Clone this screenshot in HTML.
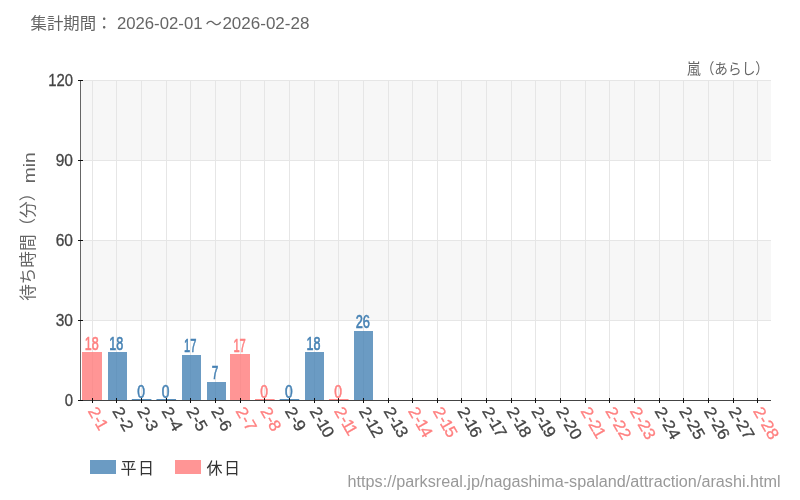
<!DOCTYPE html>
<html lang="ja">
<head>
<meta charset="utf-8">
<title>嵐（あらし） 待ち時間</title>
<style>
html,body{margin:0;padding:0;background:#fff;}
body{width:800px;height:500px;overflow:hidden;font-family:"Liberation Sans",sans-serif;}
svg{display:block;will-change:transform;}
</style>
</head>
<body>
<svg width="800" height="500" viewBox="0 0 800 500">
<rect x="0" y="0" width="800" height="500" fill="#fff"/>
<rect x="81" y="80" width="690" height="80" fill="#f7f7f7"/>
<rect x="81" y="240" width="690" height="80" fill="#f7f7f7"/>
<path d="M92.5 80V400M116.5 80V400M141.5 80V400M166.5 80V400M190.5 80V400M215.5 80V400M240.5 80V400M264.5 80V400M289.5 80V400M314.5 80V400M338.5 80V400M363.5 80V400M388.5 80V400M412.5 80V400M437.5 80V400M461.5 80V400M486.5 80V400M511.5 80V400M535.5 80V400M560.5 80V400M585.5 80V400M609.5 80V400M634.5 80V400M659.5 80V400M683.5 80V400M708.5 80V400M733.5 80V400M757.5 80V400M81 80.5H771M81 160.5H771M81 240.5H771M81 320.5H771" stroke="#e6e6e6" stroke-width="1" fill="none"/>
<rect x="82" y="352" width="20" height="48" fill="#ff7b7b" fill-opacity="0.8"/>
<rect x="108" y="352" width="19" height="48" fill="#4682b4" fill-opacity="0.8"/>
<rect x="131.81" y="399" width="19.6" height="1" fill="#4682b4" fill-opacity="0.9"/>
<rect x="156.45" y="399" width="19.6" height="1" fill="#4682b4" fill-opacity="0.9"/>
<rect x="182" y="355" width="19" height="45" fill="#4682b4" fill-opacity="0.8"/>
<rect x="207" y="382" width="19" height="18" fill="#4682b4" fill-opacity="0.8"/>
<rect x="230" y="354" width="20" height="46" fill="#ff7b7b" fill-opacity="0.8"/>
<rect x="255.02" y="399" width="19.6" height="1" fill="#ff8080" fill-opacity="0.9"/>
<rect x="279.66" y="399" width="19.6" height="1" fill="#4682b4" fill-opacity="0.9"/>
<rect x="305" y="352" width="19" height="48" fill="#4682b4" fill-opacity="0.8"/>
<rect x="328.95" y="399" width="19.6" height="1" fill="#ff8080" fill-opacity="0.9"/>
<rect x="354" y="331" width="19" height="69" fill="#4682b4" fill-opacity="0.8"/>
<path d="M80.5 80V401" stroke="#666" stroke-width="1" fill="none"/>
<path d="M80 400.5H771" stroke="#444" stroke-width="1" fill="none"/>
<path d="M78 80.5H83M78 160.5H83M78 240.5H83M78 320.5H83M78 400.5H83M92.5 398V403M116.5 398V403M141.5 398V403M166.5 398V403M190.5 398V403M215.5 398V403M240.5 398V403M264.5 398V403M289.5 398V403M314.5 398V403M338.5 398V403M363.5 398V403M388.5 398V403M412.5 398V403M437.5 398V403M461.5 398V403M486.5 398V403M511.5 398V403M535.5 398V403M560.5 398V403M585.5 398V403M609.5 398V403M634.5 398V403M659.5 398V403M683.5 398V403M708.5 398V403M733.5 398V403M757.5 398V403" stroke="#111" stroke-width="1" fill="none"/>
<text x="73" y="86.2" text-anchor="end" font-family="Liberation Sans, sans-serif" font-size="16.6" fill="#444" stroke="#444" stroke-width="0.3" textLength="24.8" lengthAdjust="spacingAndGlyphs">120</text>
<text x="73" y="166.2" text-anchor="end" font-family="Liberation Sans, sans-serif" font-size="16.6" fill="#444" stroke="#444" stroke-width="0.3" textLength="17.3" lengthAdjust="spacingAndGlyphs">90</text>
<text x="73" y="246.2" text-anchor="end" font-family="Liberation Sans, sans-serif" font-size="16.6" fill="#444" stroke="#444" stroke-width="0.3" textLength="17.3" lengthAdjust="spacingAndGlyphs">60</text>
<text x="73" y="326.2" text-anchor="end" font-family="Liberation Sans, sans-serif" font-size="16.6" fill="#444" stroke="#444" stroke-width="0.3" textLength="17.3" lengthAdjust="spacingAndGlyphs">30</text>
<text x="73" y="406.2" text-anchor="end" font-family="Liberation Sans, sans-serif" font-size="16.6" fill="#444" stroke="#444" stroke-width="0.3" textLength="8.3" lengthAdjust="spacingAndGlyphs">0</text>
<text x="91.72" y="349.60" text-anchor="middle" font-family="Liberation Sans, sans-serif" font-size="17.6" fill="#ff8080" stroke="#ff8080" stroke-width="0.6" textLength="14.0" lengthAdjust="spacingAndGlyphs">18</text>
<text x="116.36" y="349.60" text-anchor="middle" font-family="Liberation Sans, sans-serif" font-size="17.6" fill="#4682b4" stroke="#4682b4" stroke-width="0.6" textLength="14.0" lengthAdjust="spacingAndGlyphs">18</text>
<text x="141.01" y="397.60" text-anchor="middle" font-family="Liberation Sans, sans-serif" font-size="17.6" fill="#4682b4" stroke="#4682b4" stroke-width="0.6" textLength="7.7" lengthAdjust="spacingAndGlyphs">0</text>
<text x="165.65" y="397.60" text-anchor="middle" font-family="Liberation Sans, sans-serif" font-size="17.6" fill="#4682b4" stroke="#4682b4" stroke-width="0.6" textLength="7.7" lengthAdjust="spacingAndGlyphs">0</text>
<text x="190.29" y="352.27" text-anchor="middle" font-family="Liberation Sans, sans-serif" font-size="17.6" fill="#4682b4" stroke="#4682b4" stroke-width="0.6" textLength="12.4" lengthAdjust="spacingAndGlyphs">17</text>
<text x="214.94" y="378.93" text-anchor="middle" font-family="Liberation Sans, sans-serif" font-size="17.6" fill="#4682b4" stroke="#4682b4" stroke-width="0.6" textLength="6.6" lengthAdjust="spacingAndGlyphs">7</text>
<text x="239.58" y="352.27" text-anchor="middle" font-family="Liberation Sans, sans-serif" font-size="17.6" fill="#ff8080" stroke="#ff8080" stroke-width="0.6" textLength="12.4" lengthAdjust="spacingAndGlyphs">17</text>
<text x="264.22" y="397.60" text-anchor="middle" font-family="Liberation Sans, sans-serif" font-size="17.6" fill="#ff8080" stroke="#ff8080" stroke-width="0.6" textLength="7.7" lengthAdjust="spacingAndGlyphs">0</text>
<text x="288.86" y="397.60" text-anchor="middle" font-family="Liberation Sans, sans-serif" font-size="17.6" fill="#4682b4" stroke="#4682b4" stroke-width="0.6" textLength="7.7" lengthAdjust="spacingAndGlyphs">0</text>
<text x="313.51" y="349.60" text-anchor="middle" font-family="Liberation Sans, sans-serif" font-size="17.6" fill="#4682b4" stroke="#4682b4" stroke-width="0.6" textLength="14.0" lengthAdjust="spacingAndGlyphs">18</text>
<text x="338.15" y="397.60" text-anchor="middle" font-family="Liberation Sans, sans-serif" font-size="17.6" fill="#ff8080" stroke="#ff8080" stroke-width="0.6" textLength="7.7" lengthAdjust="spacingAndGlyphs">0</text>
<text x="362.79" y="328.27" text-anchor="middle" font-family="Liberation Sans, sans-serif" font-size="17.6" fill="#4682b4" stroke="#4682b4" stroke-width="0.6" textLength="14.3" lengthAdjust="spacingAndGlyphs">26</text>
<text transform="translate(87.42 410.9) rotate(60) scale(1.055 1)" dx="0 0.3 -1.35" font-family="Liberation Sans, sans-serif" font-size="16.4" fill="#ff8080" stroke="#ff8080" stroke-width="0.3">2-1</text>
<text transform="translate(112.06 410.9) rotate(60) scale(1.055 1)" dx="0 0.3 -0.3" font-family="Liberation Sans, sans-serif" font-size="16.4" fill="#444" stroke="#444" stroke-width="0.3">2-2</text>
<text transform="translate(136.71 410.9) rotate(60) scale(1.055 1)" dx="0 0.3 -0.3" font-family="Liberation Sans, sans-serif" font-size="16.4" fill="#444" stroke="#444" stroke-width="0.3">2-3</text>
<text transform="translate(161.35 410.9) rotate(60) scale(1.055 1)" dx="0 0.3 -0.3" font-family="Liberation Sans, sans-serif" font-size="16.4" fill="#444" stroke="#444" stroke-width="0.3">2-4</text>
<text transform="translate(185.99 410.9) rotate(60) scale(1.055 1)" dx="0 0.3 -0.3" font-family="Liberation Sans, sans-serif" font-size="16.4" fill="#444" stroke="#444" stroke-width="0.3">2-5</text>
<text transform="translate(210.64 410.9) rotate(60) scale(1.055 1)" dx="0 0.3 -0.3" font-family="Liberation Sans, sans-serif" font-size="16.4" fill="#444" stroke="#444" stroke-width="0.3">2-6</text>
<text transform="translate(235.28 410.9) rotate(60) scale(1.055 1)" dx="0 0.3 -0.3" font-family="Liberation Sans, sans-serif" font-size="16.4" fill="#ff8080" stroke="#ff8080" stroke-width="0.3">2-7</text>
<text transform="translate(259.92 410.9) rotate(60) scale(1.055 1)" dx="0 0.3 -0.3" font-family="Liberation Sans, sans-serif" font-size="16.4" fill="#ff8080" stroke="#ff8080" stroke-width="0.3">2-8</text>
<text transform="translate(284.56 410.9) rotate(60) scale(1.055 1)" dx="0 0.3 -0.3" font-family="Liberation Sans, sans-serif" font-size="16.4" fill="#444" stroke="#444" stroke-width="0.3">2-9</text>
<text transform="translate(309.21 410.9) rotate(60) scale(1.055 1)" dx="0 0.3 -1.35 -1.2" font-family="Liberation Sans, sans-serif" font-size="16.4" fill="#444" stroke="#444" stroke-width="0.3">2-10</text>
<text transform="translate(333.85 410.9) rotate(60) scale(1.055 1)" dx="0 0.3 -1.35 -2.25" font-family="Liberation Sans, sans-serif" font-size="16.4" fill="#ff8080" stroke="#ff8080" stroke-width="0.3">2-11</text>
<text transform="translate(358.49 410.9) rotate(60) scale(1.055 1)" dx="0 0.3 -1.35 -1.2" font-family="Liberation Sans, sans-serif" font-size="16.4" fill="#444" stroke="#444" stroke-width="0.3">2-12</text>
<text transform="translate(383.14 410.9) rotate(60) scale(1.055 1)" dx="0 0.3 -1.35 -1.2" font-family="Liberation Sans, sans-serif" font-size="16.4" fill="#444" stroke="#444" stroke-width="0.3">2-13</text>
<text transform="translate(407.78 410.9) rotate(60) scale(1.055 1)" dx="0 0.3 -1.35 -1.2" font-family="Liberation Sans, sans-serif" font-size="16.4" fill="#ff8080" stroke="#ff8080" stroke-width="0.3">2-14</text>
<text transform="translate(432.42 410.9) rotate(60) scale(1.055 1)" dx="0 0.3 -1.35 -1.2" font-family="Liberation Sans, sans-serif" font-size="16.4" fill="#ff8080" stroke="#ff8080" stroke-width="0.3">2-15</text>
<text transform="translate(457.06 410.9) rotate(60) scale(1.055 1)" dx="0 0.3 -1.35 -1.2" font-family="Liberation Sans, sans-serif" font-size="16.4" fill="#444" stroke="#444" stroke-width="0.3">2-16</text>
<text transform="translate(481.71 410.9) rotate(60) scale(1.055 1)" dx="0 0.3 -1.35 -1.2" font-family="Liberation Sans, sans-serif" font-size="16.4" fill="#444" stroke="#444" stroke-width="0.3">2-17</text>
<text transform="translate(506.35 410.9) rotate(60) scale(1.055 1)" dx="0 0.3 -1.35 -1.2" font-family="Liberation Sans, sans-serif" font-size="16.4" fill="#444" stroke="#444" stroke-width="0.3">2-18</text>
<text transform="translate(530.99 410.9) rotate(60) scale(1.055 1)" dx="0 0.3 -1.35 -1.2" font-family="Liberation Sans, sans-serif" font-size="16.4" fill="#444" stroke="#444" stroke-width="0.3">2-19</text>
<text transform="translate(555.64 410.9) rotate(60) scale(1.055 1)" dx="0 0.3 -0.3 0" font-family="Liberation Sans, sans-serif" font-size="16.4" fill="#444" stroke="#444" stroke-width="0.3">2-20</text>
<text transform="translate(580.28 410.9) rotate(60) scale(1.055 1)" dx="0 0.3 -0.3 -1.05" font-family="Liberation Sans, sans-serif" font-size="16.4" fill="#ff8080" stroke="#ff8080" stroke-width="0.3">2-21</text>
<text transform="translate(604.92 410.9) rotate(60) scale(1.055 1)" dx="0 0.3 -0.3 0" font-family="Liberation Sans, sans-serif" font-size="16.4" fill="#ff8080" stroke="#ff8080" stroke-width="0.3">2-22</text>
<text transform="translate(629.56 410.9) rotate(60) scale(1.055 1)" dx="0 0.3 -0.3 0" font-family="Liberation Sans, sans-serif" font-size="16.4" fill="#ff8080" stroke="#ff8080" stroke-width="0.3">2-23</text>
<text transform="translate(654.21 410.9) rotate(60) scale(1.055 1)" dx="0 0.3 -0.3 0" font-family="Liberation Sans, sans-serif" font-size="16.4" fill="#444" stroke="#444" stroke-width="0.3">2-24</text>
<text transform="translate(678.85 410.9) rotate(60) scale(1.055 1)" dx="0 0.3 -0.3 0" font-family="Liberation Sans, sans-serif" font-size="16.4" fill="#444" stroke="#444" stroke-width="0.3">2-25</text>
<text transform="translate(703.49 410.9) rotate(60) scale(1.055 1)" dx="0 0.3 -0.3 0" font-family="Liberation Sans, sans-serif" font-size="16.4" fill="#444" stroke="#444" stroke-width="0.3">2-26</text>
<text transform="translate(728.14 410.9) rotate(60) scale(1.055 1)" dx="0 0.3 -0.3 0" font-family="Liberation Sans, sans-serif" font-size="16.4" fill="#444" stroke="#444" stroke-width="0.3">2-27</text>
<text transform="translate(752.78 410.9) rotate(60) scale(1.055 1)" dx="0 0.3 -0.3 0" font-family="Liberation Sans, sans-serif" font-size="16.4" fill="#ff8080" stroke="#ff8080" stroke-width="0.3">2-28</text>
<text x="30.5" y="29" font-family="Liberation Sans, Noto Sans CJK JP, sans-serif" font-size="16.4" fill="#666">集計期間：</text>
<text x="116.9" y="29" font-family="Liberation Sans, sans-serif" font-size="16.4" fill="#666" textLength="85.6" lengthAdjust="spacingAndGlyphs">2026-02-01</text>
<text x="205.6" y="29" font-family="Liberation Sans, Noto Sans CJK JP, sans-serif" font-size="16.4" fill="#666">～</text>
<text x="222.4" y="29" font-family="Liberation Sans, sans-serif" font-size="16.4" fill="#666" textLength="87" lengthAdjust="spacingAndGlyphs">2026-02-28</text>
<text x="687" y="74.4" font-family="Liberation Sans, Noto Sans CJK JP, sans-serif" font-size="15" fill="#666" textLength="82" lengthAdjust="spacingAndGlyphs">嵐（あらし）</text>
<text transform="translate(34.4 300.8) rotate(-90)" font-family="Liberation Sans, Noto Sans CJK JP, sans-serif" font-size="16.6" fill="#666" textLength="116" lengthAdjust="spacingAndGlyphs">待ち時間（分）</text>
<text transform="translate(35.4 183.3) rotate(-90)" font-family="Liberation Sans, sans-serif" font-size="17.2" fill="#666" textLength="31" lengthAdjust="spacingAndGlyphs">min</text>
<rect x="90" y="460" width="26" height="14" fill="#4682b4" fill-opacity="0.8"/>
<rect x="175" y="460" width="26" height="14" fill="#ff7b7b" fill-opacity="0.8"/>
<text x="120.5" y="473.5" font-family="Liberation Sans, Noto Sans CJK JP, sans-serif" font-size="16" letter-spacing="1.5" fill="#333">平日</text>
<text x="206.5" y="473.5" font-family="Liberation Sans, Noto Sans CJK JP, sans-serif" font-size="16" letter-spacing="1.5" fill="#333">休日</text>
<text x="347.6" y="486.8" font-family="Liberation Sans, sans-serif" font-size="16" fill="#999" textLength="433" lengthAdjust="spacingAndGlyphs">https://parksreal.jp/nagashima-spaland/attraction/arashi.html</text>
</svg>
</body>
</html>
